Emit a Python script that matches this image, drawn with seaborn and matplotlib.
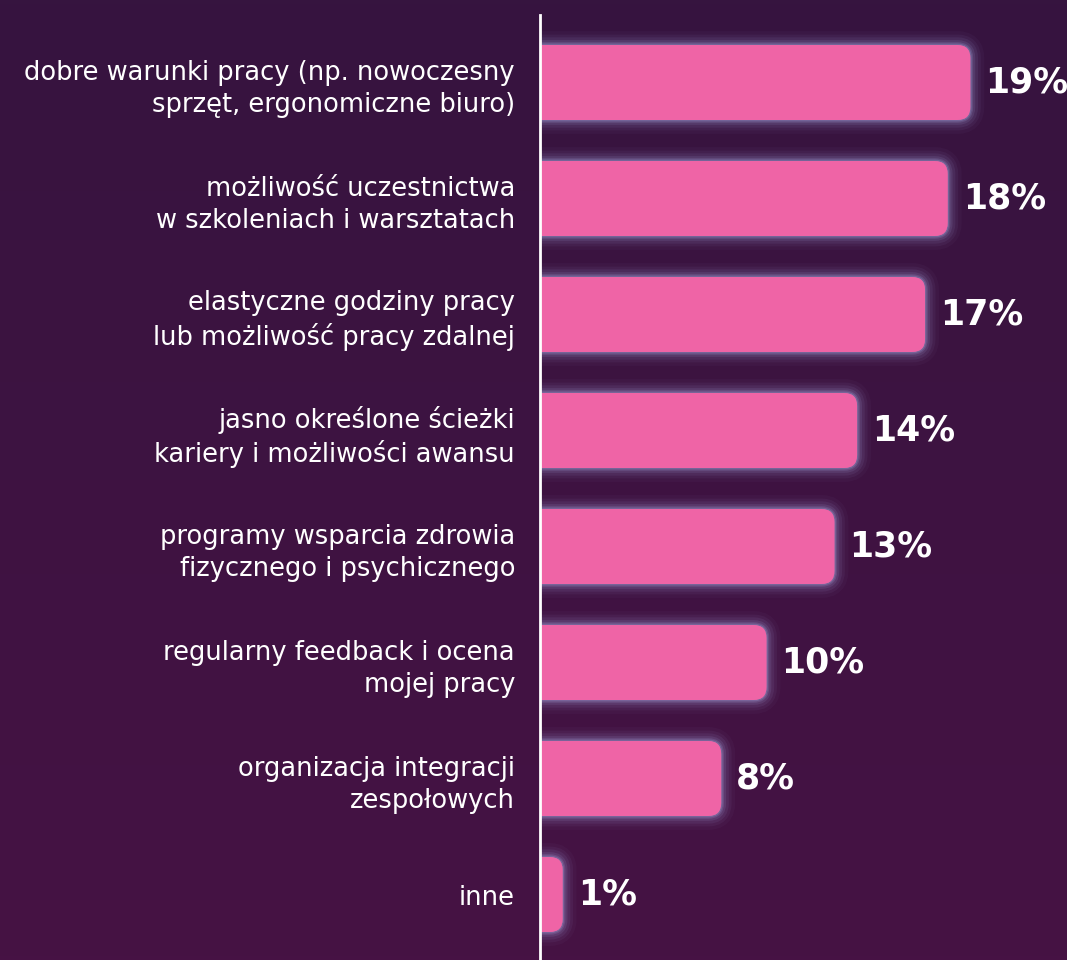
import numpy as np
import pandas as pd
import matplotlib
matplotlib.use("Agg")
import matplotlib.pyplot as plt
import matplotlib.patheffects as pe
from matplotlib.patches import FancyBboxPatch
from matplotlib.colors import LinearSegmentedColormap
import seaborn as sns

categories = [
    "dobre warunki pracy (np. nowoczesny\nsprzęt, ergonomiczne biuro)",
    "możliwość uczestnictwa\nw szkoleniach i warsztatach",
    "elastyczne godziny pracy\nlub możliwość pracy zdalnej",
    "jasno określone ścieżki\nkariery i możliwości awansu",
    "programy wsparcia zdrowia\nfizycznego i psychicznego",
    "regularny feedback i ocena\nmojej pracy",
    "organizacja integracji\nzespołowych",
    "inne",
]
values = [19, 18, 17, 14, 13, 10, 8, 1]
value_labels = [f"{v}%" for v in values]

BG_TOP = "#36143f"
BG_BOTTOM = "#461244"
BAR = "#ef64a6"
GLOW = "#bcc4ff"

sns.set_theme(style="white")
plt.rcParams["font.family"] = ["DejaVu Sans"]

W, H, DPI = 1067, 960, 100
fig = plt.figure(figsize=(W / DPI, H / DPI), dpi=DPI)

# gradient background
bg = fig.add_axes([0, 0, 1, 1], zorder=-10)
cmap = LinearSegmentedColormap.from_list("bg", [BG_TOP, BG_BOTTOM])
bg.imshow(np.linspace(0, 1, 256).reshape(-1, 1), aspect="auto", cmap=cmap,
          extent=[0, 1, 0, 1], origin="upper")
bg.set_axis_off()

# plot area: value axis starts at x=540 px, top of axis line at 15 px
px_per_unit = 22.65
row_px = 116.0
left = 540 / W
ax = fig.add_axes([left, 0, 1 - left, 1 - 15 / H])
ax.patch.set_alpha(0)

df = pd.DataFrame({"cat": categories, "val": values})
sns.barplot(data=df, y="cat", x="val", orient="h", color=BAR,
            width=75 / row_px, ax=ax, saturation=1)

x_max = (W - 540) / px_per_unit
top = -67.5 / row_px
bottom = top + (H - 15) / row_px
ax.set_xlim(0, x_max)
ax.set_ylim(bottom, top)

# rounded, glowing bars rebuilt from the seaborn rectangles
r_px = 13
r = r_px / px_per_unit
aspect = px_per_unit / row_px
glow = [pe.Stroke(linewidth=w, foreground=GLOW, alpha=a)
        for w, a in [(20, 0.03), (15, 0.05), (11, 0.07), (7, 0.10), (4, 0.14), (2, 0.2)]]
glow.append(pe.Normal())
for rect in list(ax.patches):
    x0, y0 = rect.get_x(), rect.get_y()
    w, h = rect.get_width(), rect.get_height()
    rect.remove()
    box = FancyBboxPatch((x0 - r * 2, y0), w + r * 2, h,
                         boxstyle=f"round,pad=0,rounding_size={r}",
                         mutation_aspect=aspect, facecolor=BAR,
                         edgecolor="none", zorder=2)
    box.set_path_effects(glow)
    ax.add_patch(box)

for i, (v, lab) in enumerate(zip(values, value_labels)):
    ax.text(v + 15 / px_per_unit, i, lab, color="white", fontsize=25,
            fontweight="bold", family="DejaVu Sans", va="center", ha="left",
            zorder=3)

ax.set_xlabel("")
ax.set_ylabel("")
ax.set_xticks([])
ax.tick_params(axis="y", length=0, pad=18, labelsize=18.5, labelcolor="white")
for t in ax.get_yticklabels():
    t.set_linespacing(1.31)
    t.set_horizontalalignment("right")
for s in ["top", "right", "bottom"]:
    ax.spines[s].set_visible(False)
ax.spines["left"].set_color("white")
ax.spines["left"].set_linewidth(2)
ax.spines["left"].set_zorder(5)

fig.savefig("out.png", dpi=DPI, facecolor=BG_TOP)
